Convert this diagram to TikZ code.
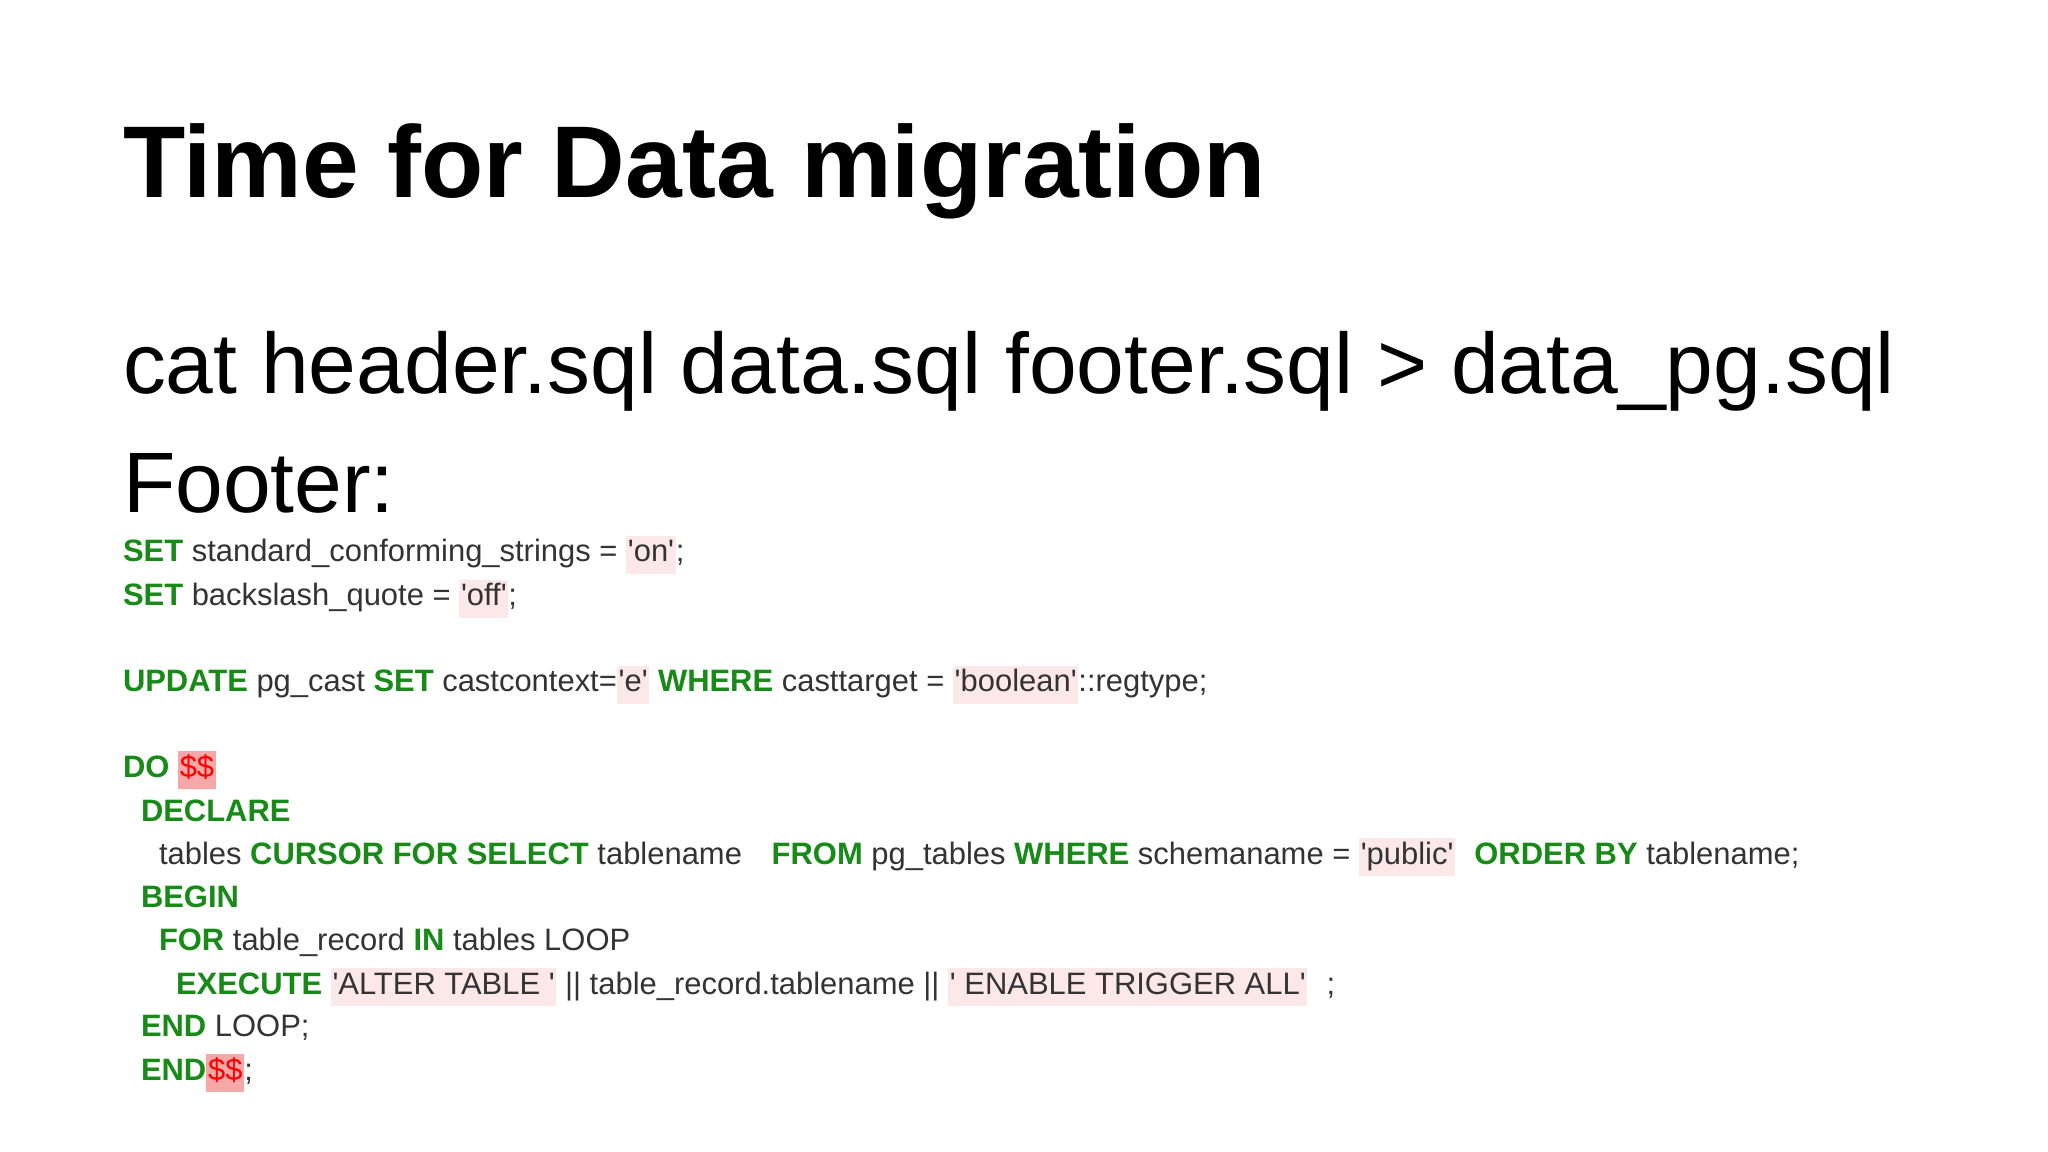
\documentclass[tikz,border=0pt]{standalone}
\usepackage{fontspec}
\setmainfont{Liberation Sans}
\usepackage{xcolor}
\definecolor{kwgreen}{HTML}{188A18}
\definecolor{codegray}{HTML}{333333}
\definecolor{strbg}{HTML}{FCE8E8}
\definecolor{dolbg}{HTML}{F6A8A8}
\definecolor{dolred}{HTML}{FF0000}
\newcommand\kw[1]{\textcolor{kwgreen}{\bfseries #1}}
\newcommand\sq{\textquotesingle}
\newcommand\strq[1]{{\setlength\fboxsep{0.5pt}\colorbox{strbg}{\strut\sq#1\sq}}}
\newcommand\dol{{\setlength\fboxsep{0.5pt}\colorbox{dolbg}{\strut\textcolor{dolred}{\$\$}}}}

\begin{document}
\begin{tikzpicture}[x=0.01cm,y=-0.01cm]
    \tikzset{
        txt/.style={anchor=base west, inner sep=0pt, outer sep=0pt},
        codeline/.style={txt, font=\fontsize{8.8pt}{10pt}\selectfont, text=codegray}
    }
    \useasboundingbox (0,0) rectangle (2048,1152);
    \fill[white] (0,0) rectangle (2048,1152);
    % headings
    \node[txt, font=\fontsize{29pt}{34pt}\selectfont\bfseries] (title) at (123,198) {Time for Data migration};
    \node[txt, font=\fontsize{24.4pt}{29pt}\selectfont] (catline) at (123,394) {cat header.sql data.sql footer.sql > data\_pg.sql};
    \node[txt, font=\fontsize{24.4pt}{29pt}\selectfont] (footer) at (123,513) {Footer:};
    % code
    \node[codeline] (l1) at (123,562) {\kw{SET} standard\_conforming\_strings = \strq{on};};
    \node[codeline] (l2) at (123,606) {\kw{SET} backslash\_quote = \strq{off};};
    \node[codeline] (l3) at (123,692) {\kw{UPDATE} pg\_cast \kw{SET} castcontext=\strq{e} \kw{WHERE} casttarget = \strq{boolean}::regtype;};
    \node[codeline] (l4) at (123,777) {\kw{DO} \dol};
    \node[codeline] (l5) at (141,821) {\kw{DECLARE}};
    \node[codeline] (l6) at (159,864) {tables \kw{CURSOR FOR SELECT} tablename\hspace{6pt} \kw{FROM} pg\_tables \kw{WHERE} schemaname = \strq{public}\hspace{3pt} \kw{ORDER BY} tablename;};
    \node[codeline] (l7) at (141,907) {\kw{BEGIN}};
    \node[codeline] (l8) at (159,950) {\kw{FOR} table\_record \kw{IN} tables LOOP};
    \node[codeline] (l9) at (176,994) {\kw{EXECUTE} \strq{ALTER TABLE } || table\_record.tablename || \strq{ ENABLE TRIGGER ALL}\hspace{3pt} ;};
    \node[codeline] (l10) at (141,1036) {\kw{END} LOOP;};
    \node[codeline] (l11) at (141,1080) {\kw{END}\dol;};
\end{tikzpicture}
\end{document}
